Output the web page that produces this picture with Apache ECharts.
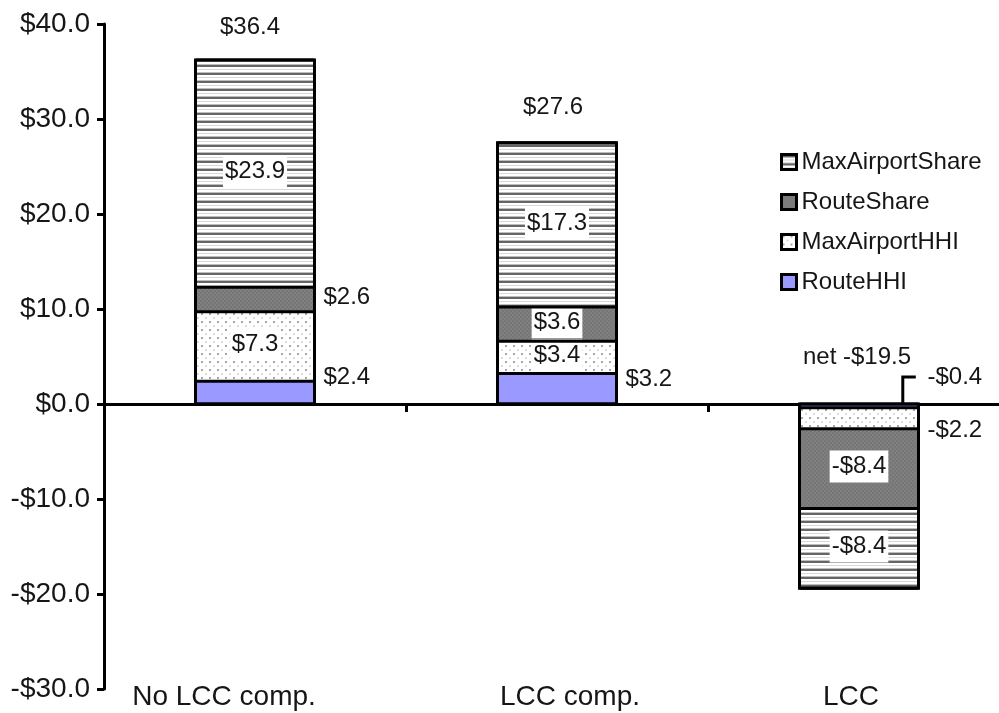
<!DOCTYPE html>
<html>
<head>
<meta charset="utf-8">
<script src="https://cdn.jsdelivr.net/npm/echarts@6/dist/echarts.min.js"></script>
<style>
  html, body { margin: 0; padding: 0; background: #fff; }
  #chart { width: 999px; height: 713px; }
</style>
</head>
<body>
<div id="chart"></div>
<script>
// Welfare components by scenario ($), stacked
const categories = ['No LCC comp.', 'LCC comp.', 'LCC'];
const routeHHI = [2.4, 3.2, -0.4];
const maxAirportHHI = [7.3, 3.4, -2.2];
const routeShare = [2.6, 3.6, -8.4];
const maxAirportShare = [23.9, 17.3, -8.4];
const totals = [36.4, 27.6, -19.5];
const yMin = -30, yMax = 40, yStep = 10;

const FONT = "'Liberation Sans', Arial, sans-serif";
const INK = '#161616';
const BAR_W = 119;

function money(v) {
  return (v < 0 ? '-' : '') + '$' + Math.abs(v).toFixed(1);
}

// Small canvas tiles used as fill patterns
function pattern(w, h, draw) {
  const c = document.createElement('canvas');
  c.width = w; c.height = h;
  const ctx = c.getContext('2d');
  draw(ctx);
  return { image: c, repeat: 'repeat' };
}
const stripeFill = pattern(8, 8, ctx => {
  ctx.fillStyle = '#fff'; ctx.fillRect(0, 0, 8, 8);
  ctx.fillStyle = '#bdbdbd'; ctx.fillRect(0, 0, 8, 1);
  ctx.fillStyle = '#666'; ctx.fillRect(0, 1, 8, 2);
  ctx.fillStyle = '#d8d8d8'; ctx.fillRect(0, 5, 8, 1);
});
const dotFill = pattern(8, 8, ctx => {
  ctx.fillStyle = '#fff'; ctx.fillRect(0, 0, 8, 8);
  ctx.fillStyle = '#a6a6a6'; ctx.fillRect(1, 1, 2, 2);
  ctx.fillStyle = '#dcdcdc'; ctx.fillRect(5, 5, 2, 2);
});
const grayFill = pattern(4, 4, ctx => {
  ctx.fillStyle = '#808080'; ctx.fillRect(0, 0, 4, 4);
  ctx.fillStyle = '#767676'; ctx.fillRect(0, 0, 2, 2); ctx.fillRect(2, 2, 2, 2);
});

// Label placement for each segment
const inside = { position: 'inside', backgroundColor: '#fff', padding: [4, 2, 4, 2], offset: [0, -2] };
const placement = {
  RouteHHI: [
    { position: 'right', offset: [0, -15] },
    { position: 'right', offset: [0, -9] },
    { position: 'right', offset: [0, -29] }
  ],
  MaxAirportHHI: [inside, inside, { position: 'right', offset: [0, 12] }],
  RouteShare: [{ position: 'right', offset: [0, -2] }, inside, inside],
  MaxAirportShare: [inside, inside, inside]
};
// Segments whose label is pulled out with a leader line
const leader = [false, false, true];

function barSeries(name, values, fill) {
  return {
    name: name,
    type: 'bar',
    stack: 'total',
    barWidth: BAR_W,
    itemStyle: { color: fill, borderWidth: 0 },
    label: {
      show: true, distance: 9, color: INK, fontFamily: FONT, fontSize: 24,
      textBorderWidth: 0, formatter: p => money(p.value)
    },
    data: values.map((v, i) => ({ value: v, label: placement[name][i] }))
  };
}

// Black outline and dividers of each stacked column, from the cumulative values
function stackOutline(params, api) {
  const i = api.value(0);
  const segs = [routeHHI[i], maxAirportHHI[i], routeShare[i], maxAirportShare[i]];
  const edges = [0];
  let pos = 0, neg = 0;
  segs.forEach(v => {
    if (v >= 0) { pos += v; edges.push(pos); } else { neg += v; edges.push(neg); }
  });
  const cx = api.coord([i, 0])[0];
  const x0 = cx - BAR_W / 2;
  const ys = edges.map(v => api.coord([i, v])[1]);
  const top = Math.min.apply(null, ys), bottom = Math.max.apply(null, ys);
  const children = [{
    type: 'rect',
    shape: { x: x0, y: top, width: BAR_W, height: bottom - top },
    style: { fill: null, stroke: '#000', lineWidth: 3 }
  }];
  ys.forEach(y => children.push({
    type: 'line',
    shape: { x1: x0, y1: y, x2: x0 + BAR_W, y2: y },
    style: { stroke: '#000', lineWidth: 3 }
  }));
  return { type: 'group', children: children };
}

const chart = echarts.init(document.getElementById('chart'), null, { renderer: 'canvas' });

chart.setOption({
  animation: false,
  backgroundColor: '#fff',
  grid: { left: 104, top: 24, width: 906, height: 665, outerBoundsMode: 'none', containLabel: false },
  legend: {
    data: ['MaxAirportShare', 'RouteShare', 'MaxAirportHHI', 'RouteHHI'],
    orient: 'vertical',
    left: 780, top: 150, padding: 0,
    itemWidth: 15, itemHeight: 15, itemGap: 16,
    icon: 'rect',
    itemStyle: { borderColor: '#000', borderWidth: 3 },
    textStyle: { fontFamily: FONT, fontSize: 24, lineHeight: 24, color: INK }
  },
  xAxis: [
    {
      type: 'category', data: categories, position: 'bottom',
      axisLine: { onZero: true, lineStyle: { color: '#000', width: 3 } },
      axisTick: { show: true, length: 8, lineStyle: { color: '#000', width: 3 } },
      axisLabel: { show: false }
    },
    {
      type: 'category', data: categories.map((c, i) => ({
        value: c,
        textStyle: { padding: [[0, 62, 0, 0], [0, 0, 0, 26], [0, 16, 0, 0]][i] }
      })),
      position: 'bottom',
      axisLine: { show: false, onZero: false },
      axisTick: { show: false },
      axisLabel: { margin: -6, fontFamily: FONT, fontSize: 28, color: INK }
    }
  ],
  yAxis: {
    type: 'value', min: yMin, max: yMax, interval: yStep,
    axisLine: { show: true, lineStyle: { color: '#000', width: 3 } },
    axisTick: { show: true, length: 7, lineStyle: { color: '#000', width: 3 } },
    splitLine: { show: false },
    axisLabel: { margin: 14, fontFamily: FONT, fontSize: 28, color: INK, formatter: v => money(v) }
  },
  series: [
    barSeries('RouteHHI', routeHHI, '#9999ff'),
    barSeries('MaxAirportHHI', maxAirportHHI, dotFill),
    barSeries('RouteShare', routeShare, grayFill),
    barSeries('MaxAirportShare', maxAirportShare, stripeFill),
    {
      name: 'Outline', type: 'custom', silent: true, z: 3,
      data: categories.map((c, i) => [i]),
      renderItem: stackOutline
    },
    {
      // Stack totals; a net negative total is written just above the baseline
      name: 'Total', type: 'scatter', symbolSize: 0, silent: true, z: 6,
      itemStyle: { opacity: 1 },
      data: totals.map((t, i) => ({
        value: [i, t > 0 ? t : 0],
        label: {
          show: true, position: 'top',
          distance: [19, 22, 35][i], offset: [[-5, 0], [-4, 0], [-2, 0]][i],
          color: INK, opacity: 1, fontFamily: FONT, fontSize: 24,
          formatter: () => (t > 0 ? '' : 'net ') + money(t)
        }
      }))
    },
    {
      // Leader line from the thin top segment to its label
      name: 'Leader', type: 'custom', silent: true, z: 6,
      data: routeHHI.map((v, i) => [i, 0]).filter((d, i) => leader[i]),
      renderItem: (params, api) => {
        const p = api.coord([api.value(0), api.value(1)]);
        const band = api.size([1, 0])[0];
        const x = p[0] + band * 0.145;
        return {
          type: 'polyline',
          shape: { points: [[x, p[1]], [x, p[1] - 27], [x + 13, p[1] - 27]] },
          style: { stroke: '#000', lineWidth: 3, fill: null }
        };
      }
    }
  ]
});
</script>
</body>
</html>
